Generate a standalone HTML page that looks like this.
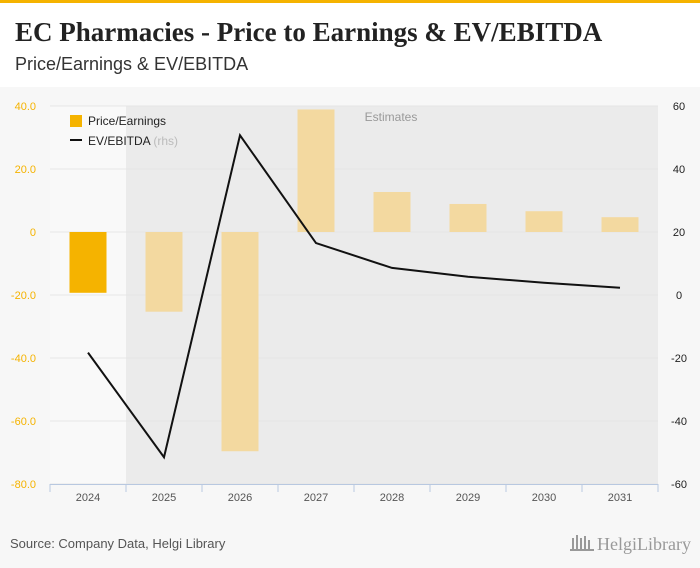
<!DOCTYPE html>
<html><head><meta charset="utf-8"><style>
body{margin:0;width:700px;height:568px;overflow:hidden;background:#fff;font-family:"Liberation Sans",sans-serif;}
#top{position:absolute;left:0;top:0;width:700px;height:3px;background:#f5b300}
#hdr{position:absolute;left:0;top:3px;width:700px;height:84px;background:#fff}
#title{position:absolute;left:15px;top:14px;font-family:"Liberation Serif",serif;font-weight:bold;font-size:27px;color:#222}
#sub{position:absolute;left:15px;top:51px;font-size:18px;color:#333}
#body{position:absolute;left:0;top:87px;width:700px;height:481px;background:#f7f7f7}
</style></head><body>
<div id="top"></div>
<div id="hdr">
<div id="title">EC Pharmacies - Price to Earnings &amp; EV/EBITDA</div>
<div id="sub">Price/Earnings &amp; EV/EBITDA</div>
</div>
<div id="body"></div>
<svg id="chart" width="700" height="568" style="position:absolute;left:0;top:0"></svg>
<script>
const categories=["2024","2025","2026","2027","2028","2029","2030","2031"];
const peValues=[-19.3,-25.3,-69.6,38.9,12.7,8.9,6.6,4.7];
const evValues=[-18.3,-51.5,50.7,16.5,8.6,5.8,3.9,2.3];
const leftTicks=[40,20,0,-20,-40,-60,-80];
const leftTickLabels=["40.0","20.0","0","-20.0","-40.0","-60.0","-80.0"];
const rightTicks=[60,40,20,0,-20,-40,-60];
const estimateStartIndex=1;

const svg=document.getElementById('chart');
const NS='http://www.w3.org/2000/svg';
const X0=50,BAND=76,Y0=106,Y1=484;
const yL=v=>Y0+(40-v)/120*(Y1-Y0);
const yR=v=>Y0+(60-v)/120*(Y1-Y0);
const xC=i=>X0+BAND*i+BAND/2;
function mk(t,a,p){const e=document.createElementNS(NS,t);for(const k in a)e.setAttribute(k,a[k]);(p||svg).appendChild(e);return e;}

let r=mk('rect',{x:X0,y:Y0,width:BAND*8,height:Y1-Y0,fill:'#f9f9f9'});


r=mk('rect',{x:X0+BAND*estimateStartIndex,y:Y0,width:BAND*(8-estimateStartIndex),height:Y1-Y0,fill:'#ebebeb'});


let t=mk('text',{x:391,y:121,'font-size':12,fill:'#999','text-anchor':'middle'});t.textContent='Estimates';



leftTicks.forEach((v,i)=>{
 const g=mk('line',{x1:X0,x2:X0+BAND*8,y1:yL(v),y2:yL(v),stroke:'#e6e6e6','stroke-width':1});
 
 
 const l=mk('text',{x:36,y:yL(v)+4,'font-size':11,fill:'#f5b300','text-anchor':'end'});l.textContent=leftTickLabels[i];
 
 
});
rightTicks.forEach(v=>{
 const l=mk('text',{x:679,y:yR(v)+4,'font-size':11,fill:'#222','text-anchor':'middle'});l.textContent=v;
 
 
});

peValues.forEach((v,i)=>{
 const y=Math.min(yL(v),yL(0)),h=Math.abs(yL(v)-yL(0));
 const b=mk('rect',{x:xC(i)-18.5,y:y,width:37,height:h,fill:i<estimateStartIndex?'#f5b300':'#f3d9a0'});
 
 
});
const ln=mk('polyline',{points:evValues.map((v,i)=>xC(i)+','+yR(v)).join(' '),fill:'none',stroke:'#111','stroke-width':2});



const ax=mk('line',{x1:X0,x2:X0+BAND*8,y1:Y1+0.5,y2:Y1+0.5,stroke:'#b8c8e0'});


for(let i=0;i<=8;i++){const tk=mk('line',{x1:X0+BAND*i,x2:X0+BAND*i,y1:Y1,y2:Y1+8,stroke:'#b8c8e0'});
 
 }
categories.forEach((c,i)=>{const l=mk('text',{x:xC(i),y:501,'font-size':11,fill:'#555','text-anchor':'middle'});l.textContent=c;
 
 });

let lg=mk('rect',{x:70,y:115,width:12,height:12,fill:'#f5b300'});


t=mk('text',{x:88,y:125,'font-size':12,fill:'#222'});t.textContent='Price/Earnings';


lg=mk('line',{x1:70,x2:82,y1:140,y2:140,stroke:'#111','stroke-width':2});


t=mk('text',{x:88,y:145,'font-size':12,fill:'#222'});t.innerHTML='EV/EBITDA <tspan fill="#bbb">(rhs)</tspan>';



t=mk('text',{x:10,y:548,'font-size':13,fill:'#555'});t.textContent='Source: Company Data, Helgi Library';


t=mk('text',{x:597,y:550,'font-size':18,fill:'#999','font-family':'Liberation Serif,serif'});t.textContent='HelgiLibrary';


const logo=mk('g',{fill:'#999'});


[[572,538,2,12],[576,535,2,15],[580,538,2,12],[584,536,2,14],[588,540,2,10]].forEach(a=>mk('rect',{x:a[0],y:a[1],width:a[2],height:a[3]},logo));
mk('rect',{x:570,y:549,width:24,height:2},logo);
</script>
</body></html>
